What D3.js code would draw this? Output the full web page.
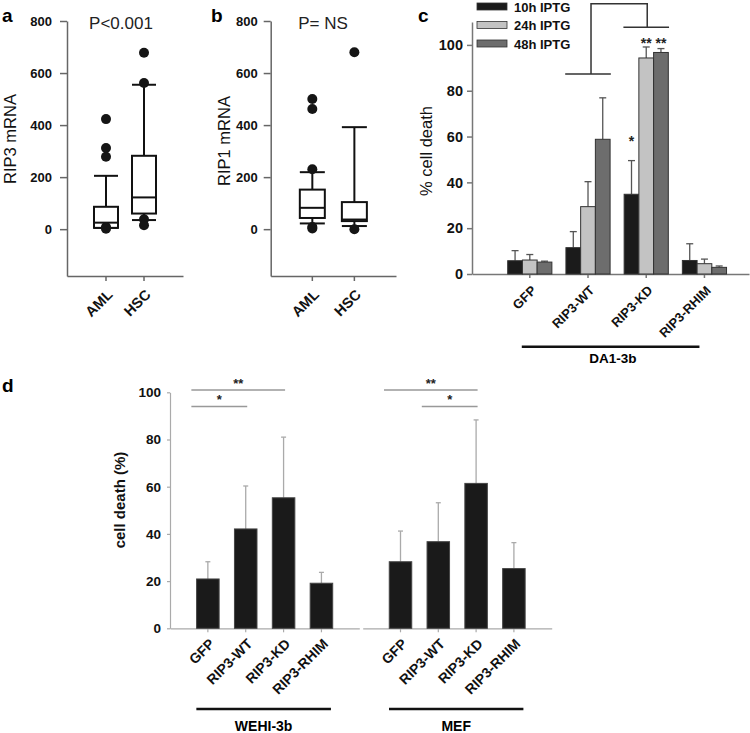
<!DOCTYPE html>
<html><head><meta charset="utf-8">
<script src="https://cdn.jsdelivr.net/npm/d3@7"></script>
<style>body{margin:0;background:#fff}svg{display:block;font-family:"Liberation Sans",Arial,sans-serif}</style>
</head><body><svg id="chart" width="750" height="733"></svg>
<script>
// ---------- Panels a & b : box plots ----------
const boxGroups = ["AML", "HSC"];
const rip3Box = [{lo: 5, q1: 5, med: 25, q3: 86, hi: 205}, {lo: 35, q1: 60, med: 122, q3: 282, hi: 555}];
const rip3Out = [[423, 312, 278, 8, 2], [678, 562, 38, 15]];
const rip1Box = [{lo: 22, q1: 43, med: 82, q3: 152, hi: 219}, {lo: 12, q1: 31, med: 37, q3: 104, hi: 392}];
const rip1Out = [[500, 462, 230, 8, 3], [680, 0]];
const mrnaTicks = [0, 200, 400, 600, 800];

// ---------- Panel c ----------
const cCats = ["GFP", "RIP3-WT", "RIP3-KD", "RIP3-RHIM"];
const cSeries = ["10h IPTG", "24h IPTG", "48h IPTG"];
const c10h = [5.8, 11.5, 34.8, 5.9];
const c24h = [6.1, 29.4, 94.3, 4.5];
const c48h = [5.2, 58.8, 96.7, 2.9];
const c10hSd = [4.4, 7.0, 14.7, 7.3];
const c24hSd = [2.4, 10.9, 4.8, 2.0];
const c48hSd = [0.4, 18.1, 1.7, 0.6];
const cTicks = [0, 20, 40, 60, 80, 100];

// ---------- Panel d ----------
const dCats = ["GFP", "RIP3-WT", "RIP3-KD", "RIP3-RHIM"];
const wehi = [20.9, 42.1, 55.3, 19.1];
const wehiSd = [7.3, 18.2, 25.7, 4.6];
const mef = [28.2, 36.7, 61.4, 25.3];
const mefSd = [13.0, 16.5, 26.9, 11.0];
const dTicks = [0, 20, 40, 60, 80, 100];

const svg = d3.select("#chart");
const FONT = '"Liberation Sans", Arial, sans-serif';

function styleAxis(g, color, fs, bold) {
  g.selectAll("path,line").attr("stroke", color).attr("stroke-width", 1.5);
  g.selectAll("text").attr("fill", "#111").style("font-size", fs + "px")
    .style("font-weight", bold ? "bold" : "normal").style("font-family", FONT);
}

function rotLabels(g, dx, dy) {
  g.selectAll(".tick text").attr("text-anchor", "end")
    .attr("transform", `translate(${dx},${dy}) rotate(-45)`).attr("dy", "0.35em").attr("x", 0).attr("y", 0);
}

// ---------- box panel ----------
function boxPanel(opts) {
  const y = d3.scaleLinear().domain([-180, 800]).range([276, 21]);
  const x = d3.scaleBand().domain(boxGroups).range(opts.xr).paddingInner(0).paddingOuter(opts.po);
  const g = svg.append("g");
  const ya = g.append("g").attr("transform", `translate(${opts.xr[0]},0)`)
    .call(d3.axisLeft(y).tickValues(mrnaTicks).tickSize(7).tickPadding(opts.pad).tickSizeOuter(0));
  styleAxis(ya, "#666", 13, true);
  const xa = g.append("g").attr("transform", `translate(0,${y.range()[0]})`)
    .call(d3.axisBottom(x).tickSize(5).tickSizeOuter(0));
  styleAxis(xa, "#666", 14.5, true);
  rotLabels(xa, 4, 16);
  const bw = opts.bw;
  boxGroups.forEach((k, i) => {
    const s = opts.stats[i];
    const cx = x(k) + x.bandwidth() / 2;
    const bg = g.append("g").attr("stroke", "#111").attr("stroke-width", 2).attr("fill", "none");
    bg.append("line").attr("x1", cx).attr("x2", cx).attr("y1", y(s.hi)).attr("y2", y(s.q3));
    bg.append("line").attr("x1", cx).attr("x2", cx).attr("y1", y(s.q1)).attr("y2", y(s.lo));
    bg.append("line").attr("x1", cx - bw / 2).attr("x2", cx + bw / 2).attr("y1", y(s.hi)).attr("y2", y(s.hi));
    bg.append("line").attr("x1", cx - bw / 2).attr("x2", cx + bw / 2).attr("y1", y(s.lo)).attr("y2", y(s.lo));
    bg.append("rect").attr("x", cx - bw / 2).attr("width", bw).attr("y", y(s.q3)).attr("height", y(s.q1) - y(s.q3)).attr("fill", "#fff");
    bg.append("line").attr("x1", cx - bw / 2).attr("x2", cx + bw / 2).attr("y1", y(s.med)).attr("y2", y(s.med));
    g.selectAll(null).data(opts.out[i]).join("circle")
      .attr("cx", cx).attr("cy", d => y(d)).attr("r", 5).attr("fill", "#151515");
  });
  g.append("text").attr("x", opts.ptx).attr("y", 29).attr("text-anchor", "middle")
    .style("font-size", "17px").attr("fill", "#222").text(opts.ptext);
  g.append("text").attr("transform", `translate(${opts.ylx},${opts.yly}) rotate(-90)`)
    .attr("text-anchor", "middle").style("font-size", "16.5px").attr("fill", "#111").text(opts.ylabel);
  g.append("text").attr("x", opts.lx).attr("y", 22).style("font-size", "19px").style("font-weight", "bold").text(opts.letter);
}

boxPanel({xr: [67, 183], po: 0.526, pad: 8, bw: 24, stats: rip3Box, out: rip3Out,
  ptx: 121, ptext: "P<0.001", ylx: 16, yly: 139, ylabel: "RIP3 mRNA", lx: 2, letter: "a"});
boxPanel({xr: [270.7, 396], po: 0.49, pad: 6, bw: 25, stats: rip1Box, out: rip1Out,
  ptx: 323, ptext: "P= NS", ylx: 230, yly: 141, ylabel: "RIP1 mRNA", lx: 211, letter: "b"});

// ---------- Panel c ----------
(function () {
  const y = d3.scaleLinear().domain([0, 110]).range([274, 22]);
  const x = d3.scaleBand().domain(cCats).range([472, 749]).paddingInner(0).paddingOuter(0.379).align(0.65);
  const xs = d3.scaleBand().domain(cSeries).range([0, x.bandwidth()]).paddingInner(0).paddingOuter(0.477);
  const colors = d3.scaleOrdinal().domain(cSeries).range(["#1b1b1b", "#c3c3c3", "#6d6d6d"]);
  const vals = [c10h, c24h, c48h];
  const sds = [c10hSd, c24hSd, c48hSd];
  const g = svg.append("g");
  const ya = g.append("g").attr("transform", "translate(472,0)")
    .call(d3.axisLeft(y).tickValues(cTicks).tickSize(5).tickPadding(4).tickSizeOuter(0));
  styleAxis(ya, "#777", 14.5, true);
  const xa = g.append("g").attr("transform", "translate(0,274)")
    .call(d3.axisBottom(x).tickSize(4).tickSizeOuter(0));
  styleAxis(xa, "#777", 13, true);
  rotLabels(xa, 4, 14);
  const data = [];
  cSeries.forEach((s, si) => cCats.forEach((c, ci) => data.push({c, s, v: vals[si][ci], sd: sds[si][ci]})));
  // error bars
  const eg = g.append("g").attr("stroke", "#555").attr("stroke-width", 1.3);
  data.forEach(d => {
    const cx = x(d.c) + xs(d.s) + xs.bandwidth() / 2;
    eg.append("line").attr("x1", cx).attr("x2", cx).attr("y1", y(d.v)).attr("y2", y(d.v + d.sd));
    eg.append("line").attr("x1", cx - 3.5).attr("x2", cx + 3.5).attr("y1", y(d.v + d.sd)).attr("y2", y(d.v + d.sd));
  });
  g.selectAll(null).data(data).join("rect")
    .attr("x", d => x(d.c) + xs(d.s)).attr("width", xs.bandwidth())
    .attr("y", d => y(d.v)).attr("height", d => y(0) - y(d.v))
    .attr("fill", d => colors(d.s)).attr("stroke", "#333").attr("stroke-width", 1);
  // asterisks
  const star = (c, s, v, t) => g.append("text").attr("x", x(c) + xs(s) + xs.bandwidth() / 2).attr("y", y(v))
    .attr("text-anchor", "middle").style("font-size", "14px").style("font-weight", "bold").attr("fill", "#222").text(t);
  star("RIP3-KD", "10h IPTG", 56, "*");
  star("RIP3-KD", "24h IPTG", 98.5, "**");
  star("RIP3-KD", "48h IPTG", 98.5, "**");
  // brackets
  const bk = g.append("g").attr("stroke", "#333").attr("stroke-width", 1.5).attr("fill", "none");
  const wc = x("RIP3-WT") + x.bandwidth() / 2, kc = x("RIP3-KD") + x.bandwidth() / 2;
  const half = xs.bandwidth() * 1.55;
  bk.append("path").attr("d", `M${wc - half},${y(87.3)}H${wc + half}M${wc + 3},${y(87.3)}V${y(118)}H${kc + 1}V${y(107.7)}M${kc - half},${y(107.7)}H${kc + half}`);
  // legend
  const lg = g.append("g");
  cSeries.forEach((s, i) => {
    const cy = 6.5 + i * 18.5;
    lg.append("rect").attr("x", 477).attr("y", cy - 3.5).attr("width", 30).attr("height", 7)
      .attr("fill", colors(s)).attr("stroke", "#333").attr("stroke-width", 0.8);
    lg.append("text").attr("x", 514).attr("y", cy + 5).style("font-size", "13px").style("font-weight", "bold").attr("fill", "#111").text(s);
  });
  // group line
  g.append("line").attr("x1", x("GFP") + x.bandwidth() / 2 - 8).attr("x2", x("RIP3-RHIM") + x.bandwidth() / 2 - 5)
    .attr("y1", 346.7).attr("y2", 346.7).attr("stroke", "#111").attr("stroke-width", 2.5);
  g.append("text").attr("x", 613).attr("y", 363).attr("text-anchor", "middle").style("font-size", "13.5px").style("font-weight", "bold").text("DA1-3b");
  g.append("text").attr("transform", "translate(432,151) rotate(-90)").attr("text-anchor", "middle")
    .style("font-size", "16.5px").attr("fill", "#111").text("% cell death");
  g.append("text").attr("x", 418).attr("y", 21.5).style("font-size", "19px").style("font-weight", "bold").text("c");
})();

// ---------- Panel d ----------
(function () {
  const y = d3.scaleLinear().domain([0, 100]).range([628.3, 392.3]);
  const g = svg.append("g");
  const ya = g.append("g").attr("transform", "translate(170,0)")
    .call(d3.axisLeft(y).tickValues(dTicks).tickSize(3).tickPadding(6).tickSizeOuter(0));
  styleAxis(ya, "#aaa", 13.5, true);
  ya.selectAll("path,line").attr("stroke-width", 1.2);
  const groups = [
    {name: "WEHI-3b", vals: wehi, sds: wehiSd, range: [170, 359.3]},
    {name: "MEF", vals: mef, sds: mefSd, range: [362.7, 551.7]}
  ];
  groups.forEach(gr => {
    const x = d3.scaleBand().domain(dCats).range(gr.range).paddingInner(0).paddingOuter(0.5);
    const bw = x.bandwidth() * 0.595;
    const xa = g.append("g").attr("transform", "translate(0,628.3)")
      .call(d3.axisBottom(x).tickSize(4).tickSizeOuter(0));
    styleAxis(xa, "#aaa", 14, true);
    xa.selectAll("path,line").attr("stroke-width", 1.2);
    rotLabels(xa, 4, 13);
    const data = dCats.map((c, i) => ({c, v: gr.vals[i], sd: gr.sds[i]}));
    const eg = g.append("g").attr("stroke", "#aaa").attr("stroke-width", 1.3);
    data.forEach(d => {
      const cx = x(d.c) + x.bandwidth() / 2;
      eg.append("line").attr("x1", cx).attr("x2", cx).attr("y1", y(d.v)).attr("y2", y(d.v + d.sd));
      eg.append("line").attr("x1", cx - 2.5).attr("x2", cx + 2.5).attr("y1", y(d.v + d.sd)).attr("y2", y(d.v + d.sd));
    });
    g.selectAll(null).data(data).join("rect")
      .attr("x", d => x(d.c) + x.bandwidth() / 2 - bw / 2).attr("width", bw)
      .attr("y", d => y(d.v)).attr("height", d => y(0) - y(d.v))
      .attr("fill", "#1a1a1a").attr("stroke", "#444").attr("stroke-width", 1);
    const c0 = x(dCats[0]) + x.bandwidth() / 2, c3 = x(dCats[3]) + x.bandwidth() / 2;
    g.append("line").attr("x1", c0 - 11.5).attr("x2", c3 + 9.5).attr("y1", 709).attr("y2", 709)
      .attr("stroke", "#111").attr("stroke-width", 2.5);
    g.append("text").attr("x", (c0 + c3) / 2 - 1).attr("y", 731).attr("text-anchor", "middle")
      .style("font-size", "14px").style("font-weight", "bold").text(gr.name);
    gr.x = x;
  });
  // significance lines
  const sg = g.append("g");
  const sig = (x, a, b, v, t) => {
    const x1 = x(a) + x.bandwidth() / 2 - 16.5, x2 = x(b) + x.bandwidth() / 2 + 1.5;
    sg.append("line").attr("x1", x1).attr("x2", x2).attr("y1", y(v)).attr("y2", y(v)).attr("stroke", "#999").attr("stroke-width", 1.5);
    sg.append("text").attr("x", (x1 + x2) / 2).attr("y", y(v) - 2).attr("text-anchor", "middle")
      .style("font-size", "13px").style("font-weight", "bold").attr("fill", "#222").text(t);
  };
  const xl = groups[0].x, xr = groups[1].x;
  sig(xl, "GFP", "RIP3-KD", 101, "**");
  sig(xl, "GFP", "RIP3-WT", 94, "*");
  sig(xr, "GFP", "RIP3-KD", 101, "**");
  sig(xr, "RIP3-WT", "RIP3-KD", 94, "*");
  g.append("text").attr("transform", "translate(125,500) rotate(-90)").attr("text-anchor", "middle")
    .style("font-size", "15px").style("font-weight", "bold").attr("fill", "#111").text("cell death (%)");
  g.append("text").attr("x", 2).attr("y", 392).style("font-size", "19px").style("font-weight", "bold").text("d");
})();
</script></body></html>
